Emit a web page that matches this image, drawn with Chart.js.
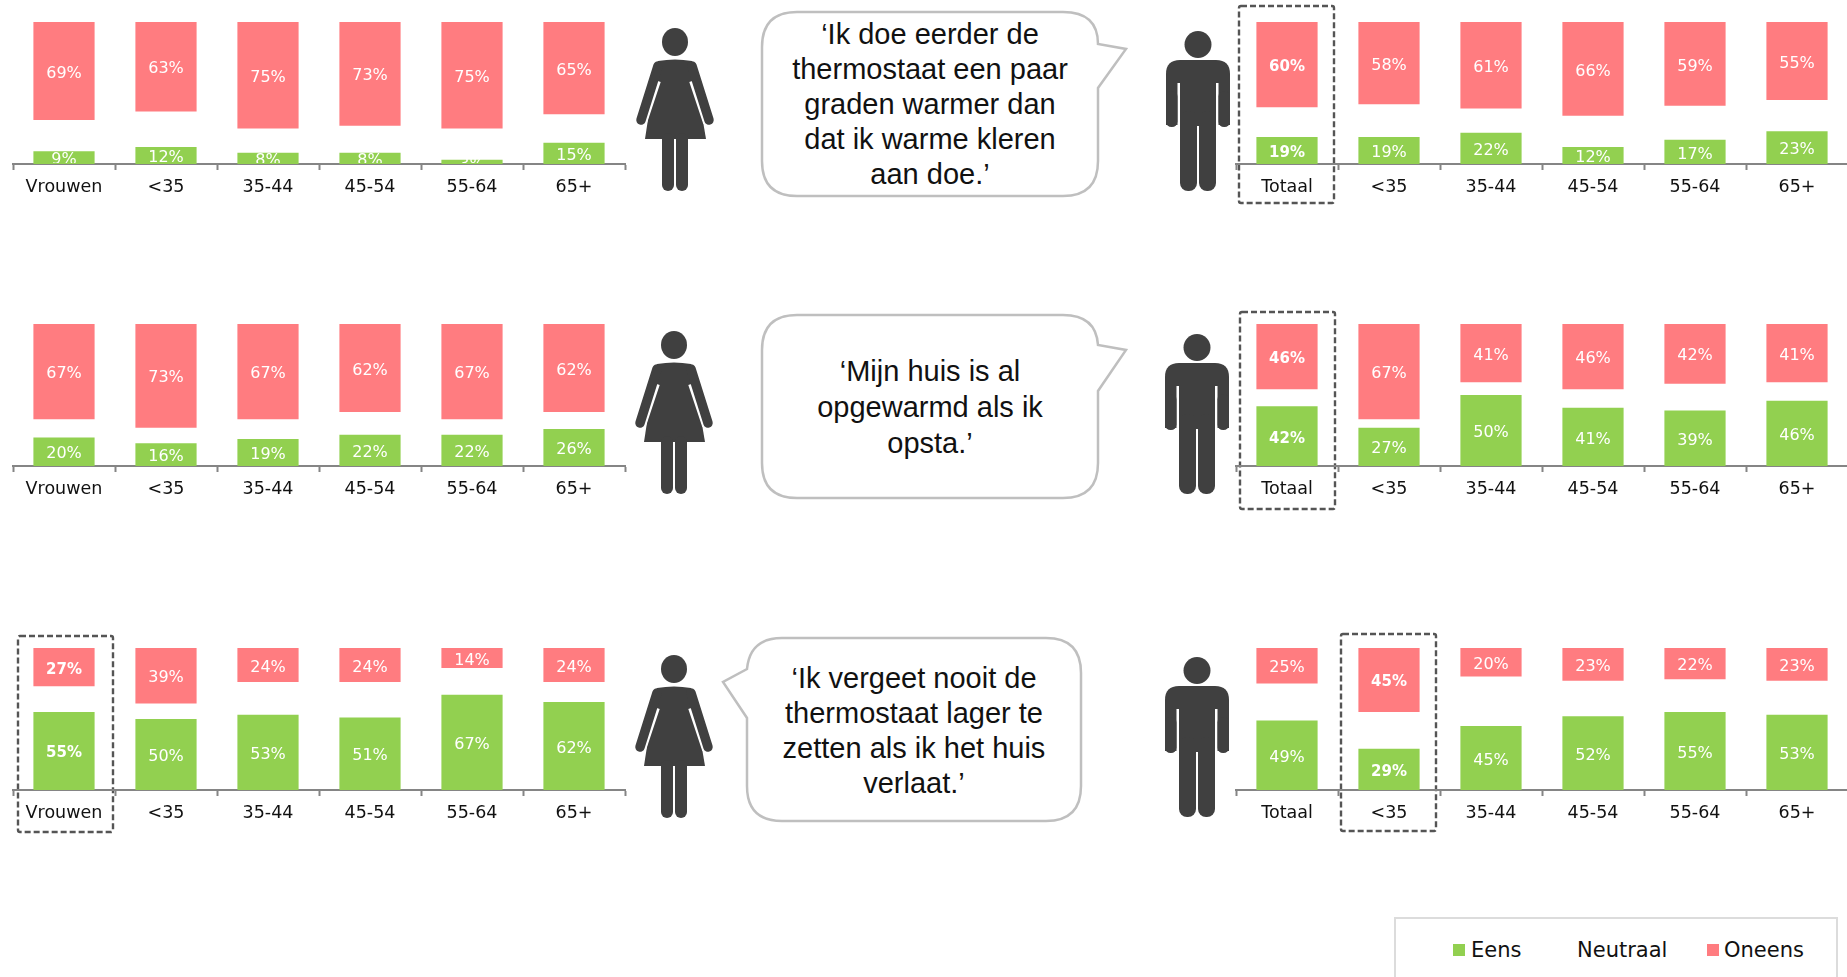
<!DOCTYPE html>
<html>
<head>
<meta charset="utf-8">
<title>Thermostaat</title>
<script src="https://cdn.jsdelivr.net/npm/chart.js@4"></script>
<style>
    html, body { margin: 0; padding: 0; background: #fff; width: 1847px; height: 977px; overflow: hidden; }
    canvas { position: absolute; }
    #overlay { position: absolute; left: 0; top: 0; }
    .legend-box { position: absolute; left: 1394px; top: 917px; width: 440px; height: 70px; border: 2px solid #dcdcdc; }
    .legend-swatch { position: absolute; top: 944px; width: 12px; height: 12px; }
    .legend-text { position: absolute; top: 937px; font: 21px "DejaVu Sans", sans-serif; line-height: 26px; color: #111; }
</style>
</head>
<body>

<svg id="overlay" width="1847" height="977" xmlns="http://www.w3.org/2000/svg">
    <defs>
        <g id="woman" fill="#404040">
            <ellipse cx="39" cy="14" rx="13" ry="14"></ellipse>
            <path d="M22 33 Q39 30 56 33 L60 52 L70 111 L9 111 L18 52 Z"></path>
            <path d="M19 52 L5 94 M59 52 L73 94" stroke="#fff" stroke-width="12" fill="none"></path>
            <path d="M22 38 L5 92 M56 38 L73 92" stroke="#404040" stroke-width="9.5" stroke-linecap="round" fill="none"></path>
            <rect x="26" y="105" width="12" height="58" rx="6"></rect>
            <rect x="40" y="105" width="12" height="58" rx="6"></rect>
        </g>
        <g id="man" fill="#404040">
            <circle cx="32" cy="13.5" r="13.5"></circle>
            <path d="M0 94 L0 43 Q0 29 14 29 L50 29 Q64 29 64 43 L64 94 Z"></path>
            <rect x="11.5" y="52" width="41" height="60" fill="#fff"></rect>
            <rect x="0" y="60" width="11.5" height="36" rx="5.5"></rect>
            <rect x="52.5" y="60" width="11.5" height="36" rx="5.5"></rect>
            <rect x="14" y="45" width="36" height="50"></rect>
            <rect x="14" y="80" width="17" height="80" rx="8"></rect>
            <rect x="33" y="80" width="17" height="80" rx="8"></rect>
        </g>
    </defs>

    <use href="#woman" x="636" y="28"></use>
    <use href="#woman" x="635" y="331"></use>
    <use href="#woman" x="635" y="655"></use>
    <use href="#man" x="1166" y="31"></use>
    <use href="#man" x="1165" y="334"></use>
    <use href="#man" x="1165" y="657"></use>

    <g fill="#fff" stroke="#bfbfbf" stroke-width="2.5">
        <path d="M797 12 L1063 12 Q1098 12 1098 44 L1126 49 L1098 88 L1098 161 Q1098 196 1063 196 L797 196 Q762 196 762 161 L762 47 Q762 12 797 12 Z"></path>
        <path d="M797 315 L1063 315 Q1096 315 1098 345 L1126 350 L1098 391 L1098 463 Q1098 498 1063 498 L797 498 Q762 498 762 463 L762 350 Q762 315 797 315 Z"></path>
        <path d="M782 638 L1046 638 Q1081 638 1081 673 L1081 786 Q1081 821 1046 821 L782 821 Q747 821 747 786 L747 718 L723 682 L747 669 Q750 638 782 638 Z"></path>
    </g>

    <g font-family="'Liberation Sans', Arial, sans-serif" font-size="29" fill="#111" text-anchor="middle">
        <text x="930" y="44">‘Ik doe eerder de</text>
        <text x="930" y="79">thermostaat een paar</text>
        <text x="930" y="114">graden warmer dan</text>
        <text x="930" y="149">dat ik warme kleren</text>
        <text x="930" y="184">aan doe.’</text>

        <text x="930" y="381">‘Mijn huis is al</text>
        <text x="930" y="417">opgewarmd als ik</text>
        <text x="930" y="453">opsta.’</text>

        <text x="914" y="688">‘Ik vergeet nooit de</text>
        <text x="914" y="723">thermostaat lager te</text>
        <text x="914" y="758">zetten als ik het huis</text>
        <text x="914" y="793">verlaat.’</text>
    </g>

    <g fill="none" stroke="#555" stroke-width="2.4" stroke-dasharray="6 3">
        <rect x="1239" y="6" width="95" height="197" rx="2"></rect>
        <rect x="1240" y="312" width="95" height="197" rx="2"></rect>
        <rect x="18" y="636" width="95" height="196" rx="2"></rect>
        <rect x="1341" y="634" width="95" height="197" rx="2"></rect>
    </g>
</svg>

<div class="legend-box"></div>
<div id="legend"></div>

<canvas id="women1"></canvas>
<canvas id="men1"></canvas>
<canvas id="women2"></canvas>
<canvas id="men2"></canvas>
<canvas id="women3"></canvas>
<canvas id="men3"></canvas>

<script>
const womenLabels = ["Vrouwen", "<35", "35-44", "45-54", "55-64", "65+"];
const menLabels = ["Totaal", "<35", "35-44", "45-54", "55-64", "65+"];

const seriesNames = ["Eens", "Neutraal", "Oneens"];
const seriesColors = ["#92D050", "#FFFFFF", "#FF7C80"];

// Ik doe eerder de thermostaat een paar graden warmer...
const women1Eens = [9, 12, 8, 8, 3, 15];
const women1Neutraal = [22, 25, 17, 19, 22, 20];
const women1Oneens = [69, 63, 75, 73, 75, 65];
const men1Eens = [19, 19, 22, 12, 17, 23];
const men1Neutraal = [21, 23, 17, 22, 24, 22];
const men1Oneens = [60, 58, 61, 66, 59, 55];

// Mijn huis is al opgewarmd als ik opsta
const women2Eens = [20, 16, 19, 22, 22, 26];
const women2Neutraal = [13, 11, 14, 16, 11, 12];
const women2Oneens = [67, 73, 67, 62, 67, 62];
const men2Eens = [42, 27, 50, 41, 39, 46];
const men2Neutraal = [12, 6, 9, 13, 19, 13];
const men2Oneens = [46, 67, 41, 46, 42, 41];

// Ik vergeet nooit de thermostaat lager te zetten...
const women3Eens = [55, 50, 53, 51, 67, 62];
const women3Neutraal = [18, 11, 23, 25, 19, 14];
const women3Oneens = [27, 39, 24, 24, 14, 24];
const men3Eens = [49, 29, 45, 52, 55, 53];
const men3Neutraal = [26, 26, 35, 25, 23, 24];
const men3Oneens = [25, 45, 20, 23, 22, 23];

// percentages inside the bars, clipped at the axis like in the original
const barLabels = {
    id: "barLabels",
    afterDatasetsDraw(chart, args, opts) {
        const ctx = chart.ctx;
        const area = chart.chartArea;
        ctx.save();
        ctx.beginPath();
        ctx.rect(area.left, area.top, area.right - area.left, area.bottom - area.top - 1);
        ctx.clip();
        ctx.fillStyle = "#fff";
        ctx.textAlign = "center";
        ctx.textBaseline = "middle";
        chart.data.datasets.forEach((dataset, i) => {
            if (i === 1) return; // neutraal has no label
            chart.getDatasetMeta(i).data.forEach((bar, j) => {
                const bold = j === opts.highlight;
                ctx.font = (bold ? "bold 15px" : "16px") + ' "DejaVu Sans", sans-serif';
                ctx.fillText(dataset.data[j] + "%", bar.x, (bar.y + bar.base) / 2 + 2.5);
            });
        });
        ctx.restore();
    }
};

function makePanel(id, left, top, labels, eens, neutraal, oneens, highlight) {
    const canvas = document.getElementById(id);
    canvas.style.left = (left - 2) + "px";
    canvas.style.top = top + "px";
    canvas.style.width = "616px";
    canvas.style.height = "182px";
    canvas.width = 616;
    canvas.height = 182;

    return new Chart(canvas, {
        type: "bar",
        data: {
            labels: labels,
            datasets: [eens, neutraal, oneens].map((values, i) => ({
                label: seriesNames[i],
                data: values,
                backgroundColor: i === 1 ? "rgba(0,0,0,0)" : seriesColors[i],
                barPercentage: 0.6,
                categoryPercentage: 1,
            })),
        },
        options: {
            responsive: false,
            animation: false,
            layout: { padding: { left: 2, right: 2, top: 0, bottom: 0 } },
            plugins: {
                legend: { display: false },
                tooltip: { enabled: false },
                barLabels: { highlight: highlight },
            },
            scales: {
                x: {
                    stacked: true,
                    afterFit: (scale) => { scale.height = 40; },
                    border: { color: "#858585", width: 2 },
                    grid: { drawOnChartArea: false, tickLength: 6, tickColor: "#858585", tickWidth: 2 },
                    ticks: {
                        color: "#111",
                        font: { family: '"DejaVu Sans", sans-serif', size: 17.5 },
                        padding: 7,
                        maxRotation: 0,
                        autoSkip: false,
                    },
                },
                y: { stacked: true, display: false, min: 0, max: 100 },
            },
        },
        plugins: [barLabels],
    });
}

makePanel("women1", 13, 22, womenLabels, women1Eens, women1Neutraal, women1Oneens, -1);
makePanel("men1", 1236, 22, menLabels, men1Eens, men1Neutraal, men1Oneens, 0);
makePanel("women2", 13, 324, womenLabels, women2Eens, women2Neutraal, women2Oneens, -1);
makePanel("men2", 1236, 324, menLabels, men2Eens, men2Neutraal, men2Oneens, 0);
makePanel("women3", 13, 648, womenLabels, women3Eens, women3Neutraal, women3Oneens, 0);
makePanel("men3", 1236, 648, menLabels, men3Eens, men3Neutraal, men3Oneens, 1);

// legend is plain html, one box shared by the six panels
const legend = document.getElementById("legend");
const legendSwatchX = [1453, null, 1707];
const legendTextX = [1471, 1577, 1724];
seriesNames.forEach((name, i) => {
    if (legendSwatchX[i] !== null) {
        const swatch = document.createElement("div");
        swatch.className = "legend-swatch";
        swatch.style.left = legendSwatchX[i] + "px";
        swatch.style.background = seriesColors[i];
        legend.appendChild(swatch);
    }
    const text = document.createElement("div");
    text.className = "legend-text";
    text.style.left = legendTextX[i] + "px";
    text.innerText = name;
    legend.appendChild(text);
});
</script>
</body>
</html>
